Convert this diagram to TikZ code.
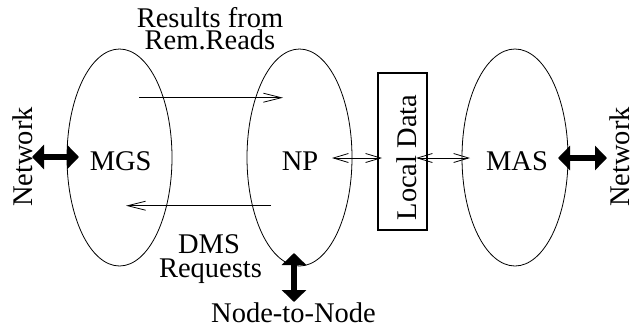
\documentclass[tikz,border=0pt]{standalone}
\usepackage{fontspec}
\setmainfont{Liberation Serif}
\usetikzlibrary{arrows.meta,shapes.geometric}
\begin{document}
\begin{tikzpicture}[x=1pt,y=-1pt,
  every node/.style={font=\fontsize{28.5}{22}\selectfont, inner sep=0pt},
  oval/.style={draw, ellipse, line width=0.8pt, minimum width=105pt, minimum height=217pt},
  thinarrow/.style={line width=0.8pt, -{Straight Barb[length=18pt,width=9pt]}},
  dblarrow/.style={line width=0.8pt, {Straight Barb[length=15pt,width=9pt]}-{Straight Barb[length=15pt,width=9pt]}},
  thickarrow/.style={line width=5.5pt, {Triangle[length=12pt,width=24pt]}-{Triangle[length=12pt,width=24pt]}},
  lbl/.style={anchor=base},
  vlbl/.style={anchor=base, rotate=90},
]
\useasboundingbox (0,0) rectangle (631,327);
% ellipses and box
\node[oval] (mgsE) at (119.5,157.5) {};
\node[oval] (npE) at (299.5,157.5) {};
\node[oval, minimum width=106pt] (masE) at (515,157.5) {};
\node[draw, line width=1.7pt, minimum width=49pt, minimum height=157pt] (ldBox) at (402.5,151.5) {};
% labels
\node[lbl] (mgs) at (120.7,170) {MGS};
\node[lbl] (np) at (300,170) {NP};
\node[lbl] (mas) at (517,170) {MAS};
\node[vlbl] (ld) at (416,157.5) {Local Data};
\node[lbl] (res1) at (210,27) {Results from};
\node[lbl] (res2) at (210,49) {Rem.Reads};
\node[lbl] (dms1) at (209,253) {DMS};
\node[lbl] (dms2) at (210.5,277) {Requests};
\node[lbl] (n2n) at (293.5,322) {Node-to-Node};
\node[vlbl] (netL) at (32.5,157) {Network};
\node[vlbl] (netR) at (629,157) {Network};
% connector ends
\coordinate (a1) at (139,97.7);
\coordinate (a2) at (283,97.7);
\coordinate (b1) at (271,205.7);
\coordinate (b2) at (126,205.7);
\coordinate (c1) at (332,158);
\coordinate (c2) at (382,158);
\coordinate (d1) at (416,158);
\coordinate (d2) at (470,158);
\coordinate (e1) at (32,157);
\coordinate (e2) at (79,157);
\coordinate (f1) at (558,158);
\coordinate (f2) at (607,158);
\coordinate (g1) at (294,253);
\coordinate (g2) at (294,302);
% connectors
\draw[thinarrow] (a1) -- (a2);
\draw[thinarrow] (b1) -- (b2);
\draw[dblarrow] (c1) -- (c2);
\draw[dblarrow] (d1) -- (d2);
\draw[thickarrow] (e1) -- (e2);
\draw[thickarrow] (f1) -- (f2);
\draw[thickarrow] (g1) -- (g2);
\end{tikzpicture}
\end{document}
